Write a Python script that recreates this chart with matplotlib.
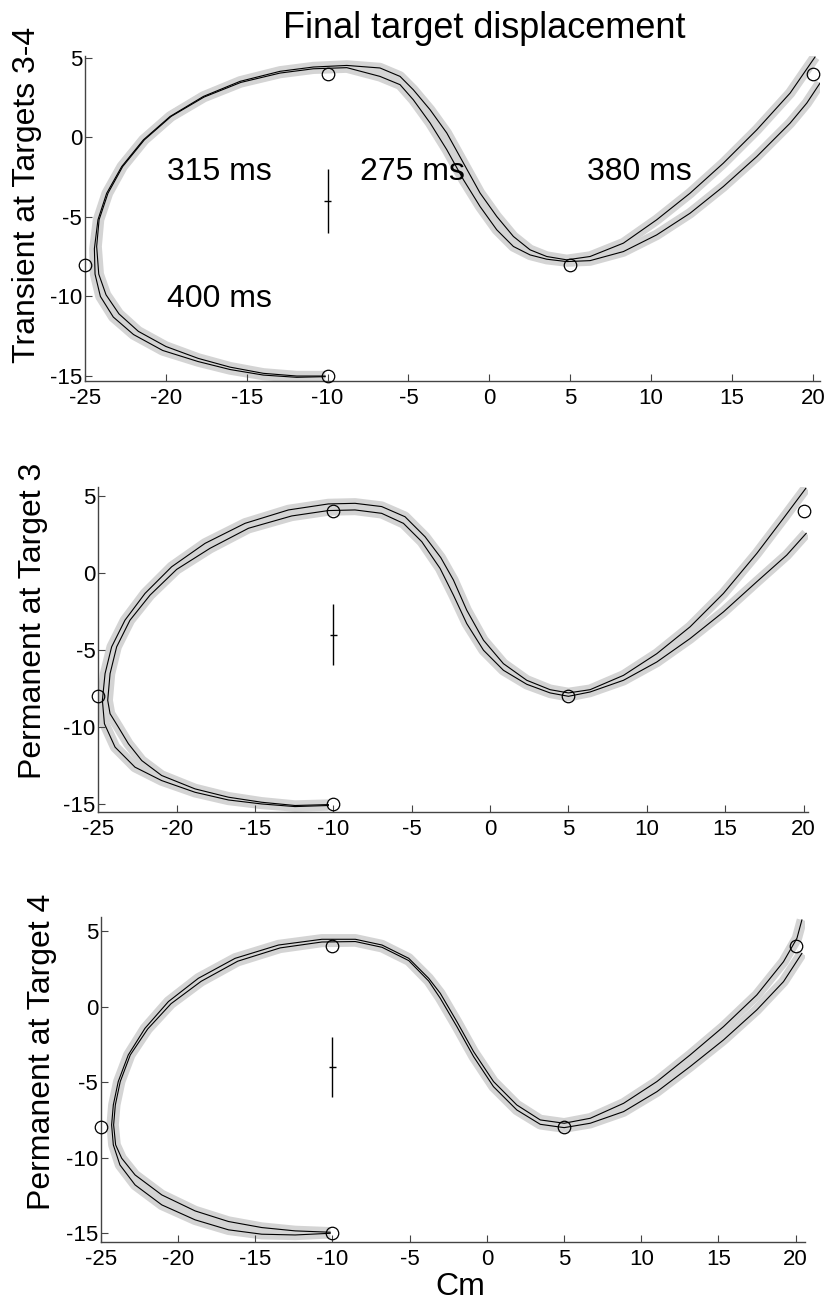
import matplotlib
matplotlib.use("Agg")
import matplotlib.pyplot as plt

plt.rcParams['font.family'] = ['Liberation Sans', 'DejaVu Sans']
plt.rcParams['axes.unicode_minus'] = False

# target positions (cm)
target_x = [-10, -25, -10, 5, 20]
target_y = [-15, -8, 4, -8, 4]

# panel 1: transient at targets 3-4, two mean hand paths
p1_a_x = [-10.15, -11.91, -13.97, -16.03, -18.0, -20.2, -22.0, -23.25, -24.05, -24.38, -24.42, -24.2, -23.66, -22.73,
          -21.39, -19.74, -17.68, -15.41, -12.94, -10.88, -8.81, -6.76, -5.52, -4.7, -3.66, -2.63, -1.6, -0.57, 0.46,
          1.49, 2.52, 3.55, 4.79, 6.23, 8.29, 10.35, 12.41, 14.47, 16.54, 18.6, 20.14]
p1_a_y = [-15.05, -15.09, -14.95, -14.6, -14.1, -13.4, -12.4, -11.3, -10.0, -8.6, -7.0, -5.18, -3.51, -1.83,
          -0.15, 1.32, 2.58, 3.53, 4.16, 4.43, 4.53, 4.37, 3.84, 3.0, 1.74, 0.28, -1.61, -3.5, -4.97,
          -6.23, -7.07, -7.49, -7.7, -7.49, -6.65, -5.18, -3.51, -1.62, 0.48, 2.79, 5.06]
p1_b_x = [-10.15, -11.91, -13.97, -16.03, -18.0, -20.0, -21.7, -22.9, -23.7, -24.15, -24.28, -24.13, -23.58, -22.67,
          -21.33, -19.68, -17.64, -15.37, -12.94, -10.88, -8.81, -6.76, -5.52, -4.7, -3.66, -2.63, -1.6, -0.57, 0.46,
          1.49, 2.52, 3.55, 4.79, 6.23, 8.29, 10.35, 12.41, 14.47, 16.54, 18.6, 19.63, 20.45]
p1_b_y = [-15.01, -15.01, -14.84, -14.45, -13.9, -13.15, -12.2, -11.1, -9.9, -8.6, -6.86, -5.18, -3.51, -1.83,
          -0.15, 1.32, 2.54, 3.46, 4.05, 4.32, 4.39, 3.84, 3.32, 2.37, 0.91, -0.77, -2.66, -4.35, -5.81,
          -6.86, -7.39, -7.66, -7.81, -7.75, -7.18, -6.13, -4.77, -3.09, -1.2, 0.9, 2.16, 3.42]

# panel 2: permanent at target 3
p2_a_x = [-10.32, -12.45, -14.57, -16.7, -18.83, -20.96, -22.66, -23.93, -24.61, -24.74, -24.57, -24.15, -23.3,
          -22.02, -20.32, -18.19, -15.64, -12.87, -10.32, -8.62, -6.92, -5.43, -4.15, -3.15, -2.34, -1.49, -0.42,
          0.85, 2.34, 3.83, 5.0, 6.38, 8.51, 10.64, 12.76, 14.89, 17.02, 18.72, 20.15]
p2_a_y = [-15.1, -15.17, -15.0, -14.74, -14.24, -13.48, -12.61, -11.31, -9.79, -8.27, -6.54, -4.8, -3.07,
          -1.33, 0.4, 1.92, 3.22, 4.09, 4.48, 4.52, 4.31, 3.65, 2.35, 1.0, -0.46, -2.42, -4.37,
          -5.89, -6.97, -7.58, -7.79, -7.58, -6.65, -5.24, -3.5, -1.33, 1.27, 3.55, 5.5]
p2_b_x = [-10.32, -12.45, -14.57, -16.7, -18.83, -20.96, -22.23, -23.08, -23.72, -24.25, -24.4, -24.25, -23.83,
          -22.98, -21.7, -20.0, -17.87, -15.42, -12.66, -10.32, -8.62, -6.92, -5.53, -4.36, -3.19, -2.34, -1.49,
          -0.42, 0.85, 2.34, 3.83, 5.0, 6.38, 8.51, 10.64, 12.76, 14.89, 17.02, 18.93, 20.17]
p2_b_y = [-15.04, -15.1, -14.89, -14.56, -14.02, -13.15, -12.18, -11.09, -10.01, -9.14, -8.27, -6.54, -4.8,
          -3.07, -1.44, 0.23, 1.6, 2.9, 3.7, 4.05, 4.09, 3.87, 3.22, 2.03, 0.29, -1.44, -3.29,
          -5.02, -6.32, -7.23, -7.79, -8.01, -7.73, -6.97, -5.78, -4.26, -2.53, -0.57, 1.16, 2.57]

# panel 3: permanent at target 4
p3_a_x = [-10.15, -12.42, -14.58, -16.74, -18.9, -21.06, -22.79, -23.77, -24.2, -24.31, -24.2, -23.88, -23.23,
          -22.15, -20.63, -18.69, -16.31, -13.5, -10.69, -8.52, -6.79, -5.06, -3.77, -3.02, -1.94, -0.86, 0.43,
          1.94, 3.46, 5.01, 6.7, 8.86, 11.02, 13.17, 15.33, 17.49, 19.22, 20.09, 20.41]
p3_a_y = [-15.0, -15.11, -15.06, -14.77, -14.11, -13.12, -11.8, -10.48, -9.15, -7.83, -6.51, -4.96, -3.2,
          -1.44, 0.33, 1.87, 3.19, 4.07, 4.45, 4.45, 4.07, 3.19, 1.87, 0.88, -1.0, -2.98, -4.96,
          -6.51, -7.5, -7.72, -7.39, -6.4, -4.96, -3.2, -1.33, 0.77, 2.97, 4.52, 5.73]
p3_b_x = [-10.15, -12.42, -14.58, -16.74, -18.9, -21.06, -22.79, -23.66, -24.05, -24.18, -24.07, -23.75, -23.1,
          -21.97, -20.46, -18.51, -16.14, -13.39, -10.69, -8.52, -6.79, -5.06, -3.77, -3.02, -1.94, -0.86, 0.43,
          1.94, 3.46, 5.01, 6.7, 8.86, 11.02, 13.17, 15.33, 17.49, 19.22, 20.41]
p3_b_y = [-14.93, -14.84, -14.62, -14.22, -13.52, -12.46, -11.14, -10.03, -9.15, -7.83, -6.51, -4.96, -3.2,
          -1.48, 0.19, 1.67, 3.0, 3.88, 4.27, 4.3, 3.92, 3.04, 1.69, 0.55, -1.33, -3.31, -5.3,
          -6.84, -7.79, -8.01, -7.72, -6.95, -5.63, -3.97, -2.21, -0.22, 1.65, 3.52]

# movement times written in panel 1
mt_labels = ['315 ms', '400 ms', '275 ms', '380 ms']
mt_x = [-19.95, -19.95, -7.99, 6.03]
mt_y = [-2.68, -10.66, -2.68, -2.68]

# error bar (vertical SD) shown at the start region
err_x, err_y, err_xsd, err_ysd = -10, -4, 0.2, 2

panels = [
    (p1_a_x, p1_a_y, p1_b_x, p1_b_y),
    (p2_a_x, p2_a_y, p2_b_x, p2_b_y),
    (p3_a_x, p3_a_y, p3_b_x, p3_b_y),
]
ylabels = ['Transient at Targets 3-4', 'Permanent at Target 3', 'Permanent at Target 4']
ylabel_pos = [(27, 195), (33, 621), (42, 1052)]
ax_rects = [[0.1023, 0.7074, 0.8845, 0.2493],
            [0.1183, 0.3766, 0.8543, 0.2496],
            [0.1215, 0.0458, 0.8470, 0.2502]]
xlims = [(-25, 20.45), (-25, 20.3), (-25, 20.6)]
ylims = [(-15.32, 5.1), (-15.5, 5.6), (-15.6, 5.95)]

W, H = 831, 1302
fig = plt.figure(figsize=(W / 100, H / 100), dpi=100)
band = '#d4d4d4'

for i, (ax_, ay_, bx_, by_) in enumerate(panels):
    ax = fig.add_axes(ax_rects[i])
    for xs, ys in [(ax_, ay_), (bx_, by_)]:
        ax.plot(xs, ys, color=band, lw=7.5, solid_capstyle='butt', solid_joinstyle='round', zorder=1)
    for xs, ys in [(ax_, ay_), (bx_, by_)]:
        ax.plot(xs, ys, color='black', lw=0.8, solid_joinstyle='round', zorder=2)
    ax.plot(target_x, target_y, 'o', ms=9, mfc='none', mec='black', mew=0.9, clip_on=False, zorder=3)
    ax.errorbar(err_x, err_y, xerr=err_xsd, yerr=err_ysd, fmt='none', ecolor='black', elinewidth=1,
                capsize=0, zorder=3)
    ax.set_xlim(*xlims[i])
    ax.set_ylim(*ylims[i])
    ax.set_xticks(range(-25, 21, 5))
    ax.set_yticks(range(-15, 6, 5))
    ax.spines['top'].set_visible(False)
    ax.spines['right'].set_visible(False)
    for s in ['left', 'bottom']:
        ax.spines[s].set_color('#444444')
        ax.spines[s].set_linewidth(1.0)
    ax.tick_params(direction='in', length=5, width=0.8, color='#444444', labelsize=16)
    ax.tick_params(axis='y', pad=2)
    ax.tick_params(axis='x', pad=5)
    fig.text(ylabel_pos[i][0] / W, 1 - ylabel_pos[i][1] / H, ylabels[i], rotation=90,
             ha='center', va='center', fontsize=23)
    if i == 0:
        for lab, tx, ty in zip(mt_labels, mt_x, mt_y):
            ax.text(tx, ty, lab, fontsize=23, ha='left', va='baseline', zorder=4)

fig.text(484 / W, 1 - 38 / H, 'Final target displacement', ha='center', va='baseline', fontsize=26)
fig.text(460 / W, 1 - 1295 / H, 'Cm', ha='center', va='baseline', fontsize=23)

fig.savefig('out.png', dpi=100, facecolor='white')
